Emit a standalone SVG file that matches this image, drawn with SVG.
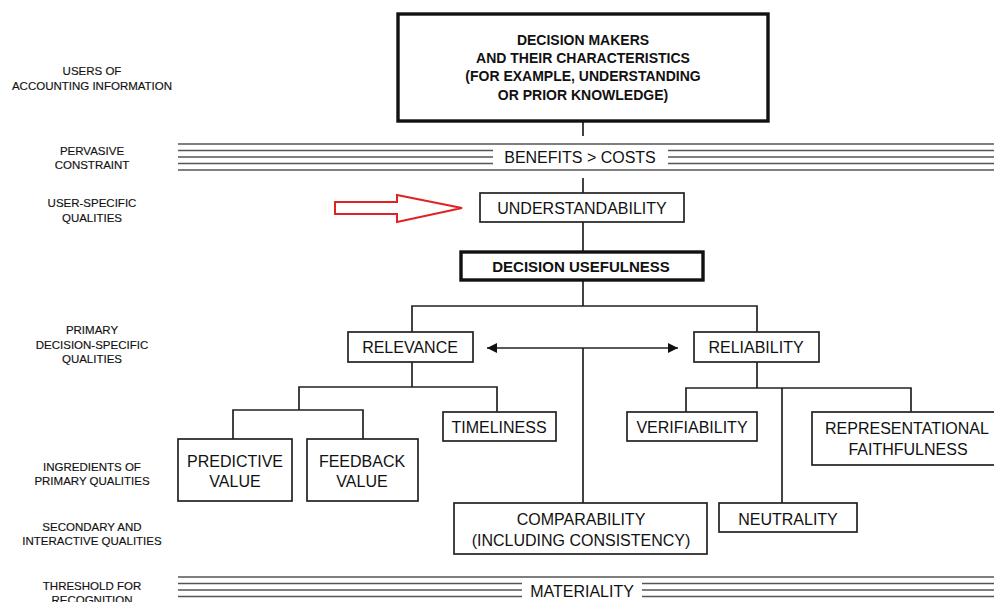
<svg xmlns="http://www.w3.org/2000/svg" width="994" height="602" viewBox="0 0 994 602">
<defs>
<marker id="ah" viewBox="0 0 10 10" refX="10" refY="5" markerWidth="10" markerHeight="10" markerUnits="userSpaceOnUse" orient="auto-start-reverse">
<path d="M0,0 L10,5 L0,10 z" fill="#111"/>
</marker>
<style>
text{font-family:"Liberation Sans",Arial,sans-serif;fill:#111;text-anchor:middle}
.lab{font-size:11.5px;stroke:#111;stroke-width:0.15}
.nt{font-size:16px}
.bt{font-size:14px;font-weight:bold}
.box{fill:#fff;stroke:#222;stroke-width:1.7}
.tbox{fill:#fff;stroke:#111;stroke-width:3.4}
.c{stroke:#222;stroke-width:1.7;fill:none}
.band{stroke:#555;stroke-width:1.4}
</style>
</defs>
<rect width="994" height="602" fill="#fff"/>

<g id="labels">
<text class="lab" x="92" y="75">USERS OF</text>
<text class="lab" x="92" y="90">ACCOUNTING INFORMATION</text>
<text class="lab" x="92" y="155">PERVASIVE</text>
<text class="lab" x="92" y="169">CONSTRAINT</text>
<text class="lab" x="92" y="207">USER-SPECIFIC</text>
<text class="lab" x="92" y="222">QUALITIES</text>
<text class="lab" x="92" y="334">PRIMARY</text>
<text class="lab" x="92" y="349">DECISION-SPECIFIC</text>
<text class="lab" x="92" y="363">QUALITIES</text>
<text class="lab" x="92" y="471">INGREDIENTS OF</text>
<text class="lab" x="92" y="485">PRIMARY QUALITIES</text>
<text class="lab" x="92" y="531">SECONDARY AND</text>
<text class="lab" x="92" y="545">INTERACTIVE QUALITIES</text>
<text class="lab" x="92" y="590">THRESHOLD FOR</text>
<text class="lab" x="92" y="604">RECOGNITION</text>
</g>

<g id="connectors">
<line class="c" x1="583" y1="121" x2="583" y2="136"/>
<line class="c" x1="583" y1="178" x2="583" y2="193"/>
<line class="c" x1="583" y1="222" x2="583" y2="251"/>
<line class="c" x1="583" y1="280" x2="583" y2="306"/>
<polyline class="c" points="412,332 412,306 757,306 757,332"/>
<line class="c" x1="487" y1="348" x2="678" y2="348" marker-start="url(#ah)" marker-end="url(#ah)"/>
<line class="c" x1="583" y1="348" x2="583" y2="503"/>
<line class="c" x1="412" y1="362" x2="412" y2="387"/>
<polyline class="c" points="299,410 299,387 497,387 497,412"/>
<polyline class="c" points="233,439 233,410 363,410 363,439"/>
<line class="c" x1="757" y1="362" x2="757" y2="388"/>
<polyline class="c" points="686,412 686,388 911,388 911,412"/>
<line class="c" x1="782" y1="388" x2="782" y2="503"/>
</g>

<g id="benefits-costs">
<line class="band" x1="178" y1="144" x2="994" y2="144"/>
<line class="band" x1="178" y1="150.5" x2="493" y2="150.5"/>
<line class="band" x1="178" y1="157" x2="493" y2="157"/>
<line class="band" x1="178" y1="163.5" x2="493" y2="163.5"/>
<line class="band" x1="668" y1="150.5" x2="994" y2="150.5"/>
<line class="band" x1="668" y1="157" x2="994" y2="157"/>
<line class="band" x1="668" y1="163.5" x2="994" y2="163.5"/>
<line class="band" x1="178" y1="170" x2="994" y2="170"/>
<text class="nt" x="580" y="163">BENEFITS &gt; COSTS</text>
</g>

<g id="materiality">
<line class="band" x1="178" y1="577" x2="994" y2="577"/>
<line class="band" x1="178" y1="583.5" x2="522" y2="583.5"/>
<line class="band" x1="178" y1="590" x2="522" y2="590"/>
<line class="band" x1="178" y1="596.5" x2="522" y2="596.5"/>
<line class="band" x1="642" y1="583.5" x2="994" y2="583.5"/>
<line class="band" x1="642" y1="590" x2="994" y2="590"/>
<line class="band" x1="642" y1="596.5" x2="994" y2="596.5"/>
<line class="band" x1="178" y1="603" x2="994" y2="603"/>
<text class="nt" x="582" y="597">MATERIALITY</text>
</g>

<g id="decision-makers">
<rect class="tbox" x="398" y="14" width="370" height="107"/>
<text class="bt" x="583" y="45">DECISION MAKERS</text>
<text class="bt" x="583" y="63">AND THEIR CHARACTERISTICS</text>
<text class="bt" x="583" y="81">(FOR EXAMPLE, UNDERSTANDING</text>
<text class="bt" x="583" y="100">OR PRIOR KNOWLEDGE)</text>
</g>

<g id="red-arrow">
<polygon points="335,202 397,202 397,195 462,208 397,222 397,214 335,214" fill="#fff" stroke="#e02222" stroke-width="2"/>
</g>

<g id="understandability">
<rect class="box" x="480" y="193" width="204" height="29"/>
<text class="nt" x="582" y="214">UNDERSTANDABILITY</text>
</g>

<g id="decision-usefulness">
<rect class="tbox" x="461" y="252" width="242" height="28"/>
<text class="bt" x="581" y="272" style="font-size:15px">DECISION USEFULNESS</text>
</g>

<g id="relevance">
<rect class="box" x="348" y="332" width="125" height="30"/>
<text class="nt" x="410" y="353">RELEVANCE</text>
</g>

<g id="reliability">
<rect class="box" x="694" y="332" width="125" height="30"/>
<text class="nt" x="756" y="353">RELIABILITY</text>
</g>

<g id="predictive-value">
<rect class="box" x="178" y="439" width="114" height="62"/>
<text class="nt" x="235" y="467">PREDICTIVE</text>
<text class="nt" x="235" y="487">VALUE</text>
</g>

<g id="feedback-value">
<rect class="box" x="307" y="439" width="111" height="62"/>
<text class="nt" x="362" y="467">FEEDBACK</text>
<text class="nt" x="362" y="487">VALUE</text>
</g>

<g id="timeliness">
<rect class="box" x="443" y="412" width="113" height="29"/>
<text class="nt" x="499" y="433">TIMELINESS</text>
</g>

<g id="verifiability">
<rect class="box" x="627" y="412" width="130" height="29"/>
<text class="nt" x="692" y="433">VERIFIABILITY</text>
</g>

<g id="representational-faithfulness">
<rect class="box" x="812" y="412" width="200" height="53"/>
<text class="nt" x="907" y="434">REPRESENTATIONAL</text>
<text class="nt" x="908" y="455">FAITHFULNESS</text>
</g>

<g id="comparability">
<rect class="box" x="454" y="503" width="253" height="51"/>
<text class="nt" x="581" y="525">COMPARABILITY</text>
<text class="nt" x="581" y="546">(INCLUDING CONSISTENCY)</text>
</g>

<g id="neutrality">
<rect class="box" x="719" y="503" width="138" height="29"/>
<text class="nt" x="788" y="525">NEUTRALITY</text>
</g>
</svg>
